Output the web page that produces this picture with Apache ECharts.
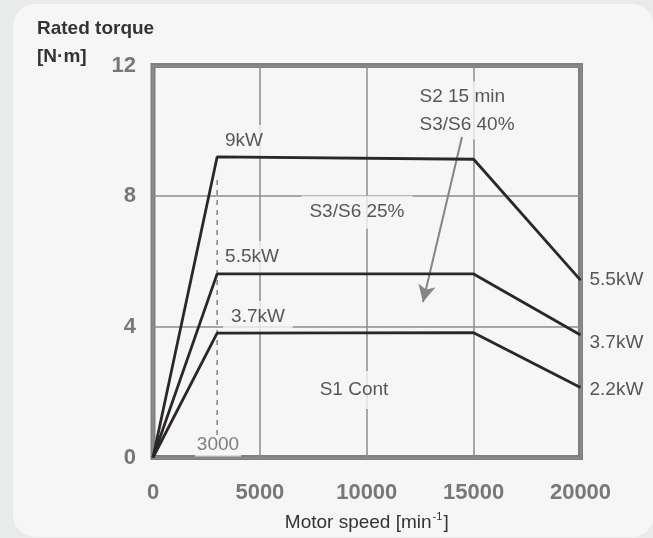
<!DOCTYPE html>
<html>
<head>
<meta charset="utf-8">
<script src="https://cdn.jsdelivr.net/npm/echarts@6/dist/echarts.min.js"></script>
<style>
html,body{margin:0;padding:0;background:#e9eaea;}
#c{width:653px;height:538px;}
</style>
</head>
<body>
<div id="c"></div>
<script>
// ---- data ----
const speedPoints = [0, 3000, 15000, 20000];
const torque9kW  = [0, 9.20, 9.13, 5.43];
const torque55kW = [0, 5.62, 5.62, 3.75];
const torque37kW = [0, 3.81, 3.82, 2.14];
const speedTicks = [0, 5000, 10000, 15000, 20000];
const torqueTicks = [0, 4, 8, 12];
const baseSpeed = [3000, 3000];
const baseSpeedTorque = [0.69, 8.58];
const arrowSpeeds = [14455, 12631];
const arrowTorques = [9.81, 4.76];
const noteTexts   = ['9kW', '5.5kW', '3.7kW', 'S3/S6 25%', 'S1 Cont', '3000'];
const noteSpeeds  = [4257, 4631, 4912, 9543, 9403, 3041];
const noteTorques = [9.69, 6.14, 4.30, 7.51, 2.07, 0.38];
const sideTexts   = ['S2 15 min\nS3/S6 40%', '5.5kW', '3.7kW', '2.2kW'];
const sideSpeeds  = [12443, 20396, 20396, 20396];
const sideTorques = [10.62, 5.43, 3.50, 2.08];

const FONT = '"Liberation Sans", Arial, sans-serif';
const chart = echarts.init(document.getElementById('c'), null, {renderer: 'canvas'});

function pairs(xs, ys) { return xs.map((x, i) => [x, ys[i]]); }

const lineStyleMain = {color: '#2b2727', width: 2.8};
function curve(name, ys) {
  return {
    name, type: 'line', data: pairs(speedPoints, ys), symbol: 'none', z: 6,
    lineStyle: lineStyleMain, silent: true, animation: false
  };
}

const labelBase = {
  show: true, fontFamily: FONT, fontSize: 19, color: '#2e2e2e',
  backgroundColor: '#f6f6f6'
};

const option = {
  backgroundColor: '#e9eaea',
  animation: false,
  graphic: [
    {type: 'rect', z: -10, silent: true,
     shape: {x: 13, y: 4, width: 641, height: 533, r: 22},
     style: {fill: '#f6f6f6'}},
    {type: 'text', left: 37, top: 19, z: 10,
     style: {text: 'Rated torque', font: 'bold 19px ' + FONT, fill: '#333'}},
    {type: 'text', left: 37, top: 47, z: 10,
     style: {text: '[N·m]', font: 'bold 19px ' + FONT, fill: '#333'}}
  ],
  grid: {
    left: 153, right: 72.5, top: 65.5, bottom: 80.5,
    show: true, borderWidth: 5, borderColor: '#7f7f7f', backgroundColor: 'transparent'
  },
  xAxis: {
    type: 'value', min: speedTicks[0], max: speedTicks[speedTicks.length - 1],
    interval: speedTicks[1] - speedTicks[0],
    axisLine: {show: false}, axisTick: {show: false},
    splitLine: {show: true, lineStyle: {color: '#8c8c8c', width: 1.5}},
    axisLabel: {fontFamily: FONT, fontSize: 22, fontWeight: 'bold', color: '#787878', margin: 24,
      formatter: v => String(v)},
    name: '{a|Motor speed [min}{s|-1}{a|]}',
    nameLocation: 'middle', nameGap: 54,
    nameTextStyle: {
      rich: {
        a: {fontFamily: FONT, fontSize: 19, color: '#333', lineHeight: 22},
        s: {fontFamily: FONT, fontSize: 11, color: '#333', verticalAlign: 'top', lineHeight: 22, padding: [0, 1, 10, 1]}
      }
    }
  },
  yAxis: {
    type: 'value', min: torqueTicks[0], max: torqueTicks[torqueTicks.length - 1],
    interval: torqueTicks[1] - torqueTicks[0],
    axisLine: {show: false}, axisTick: {show: false},
    splitLine: {show: true, lineStyle: {color: '#8c8c8c', width: 1.5}},
    axisLabel: {fontFamily: FONT, fontSize: 22, fontWeight: 'bold', color: '#787878', margin: 17}
  },
  series: [
    {
      name: 'notes', type: 'scatter', z: 3, silent: true, clip: false,
      symbolSize: 1, itemStyle: {color: 'rgba(0,0,0,0)'},
      data: noteTexts.map((t, i) => {
        const item = {value: [noteSpeeds[i], noteTorques[i]], name: t,
          label: Object.assign({}, labelBase, {position: 'inside', formatter: t, padding: [6, 8, 7, 8]})};
        if (t === 'S3/S6 25%') item.label.padding = [3, 8, 11, 8];
        if (t === 'S1 Cont') item.label.padding = [9, 8, 10, 8];
        if (t === '3000') { item.label.color = '#5f5f5f'; item.label.padding = [2, 2, 2, 2]; }
        return item;
      })
    },
    {
      name: 'side', type: 'scatter', z: 3, silent: true, clip: false,
      symbolSize: 1, itemStyle: {color: 'rgba(0,0,0,0)'},
      data: sideTexts.map((t, i) => ({
        value: [sideSpeeds[i], sideTorques[i]], name: t,
        label: Object.assign({}, labelBase, {
          position: 'right', distance: 0, align: 'left', formatter: t,
          lineHeight: 28,
          backgroundColor: i === 0 ? '#f6f6f6' : 'transparent',
          padding: i === 0 ? [1, 2, 1, 0] : 0
        })
      }))
    },
    {
      name: 'base', type: 'line', z: 4, symbol: 'none', silent: true,
      data: pairs(baseSpeed, baseSpeedTorque),
      lineStyle: {color: '#8a8a8a', width: 1.6, type: [5, 5]}
    },
    curve('9kW', torque9kW),
    curve('5.5kW', torque55kW),
    curve('3.7kW', torque37kW),
    {
      name: 'arrow', type: 'line', z: 7, data: [], silent: true,
      markLine: {
        silent: true, animation: false,
        symbol: ['none', 'arrow'], symbolSize: [13, 17],
        label: {show: false},
        lineStyle: {color: '#858585', width: 2, type: 'solid'},
        data: [[{coord: [arrowSpeeds[0], arrowTorques[0]]}, {coord: [arrowSpeeds[1], arrowTorques[1]]}]]
      }
    }
  ]
};
chart.setOption(option);
</script>
</body>
</html>
